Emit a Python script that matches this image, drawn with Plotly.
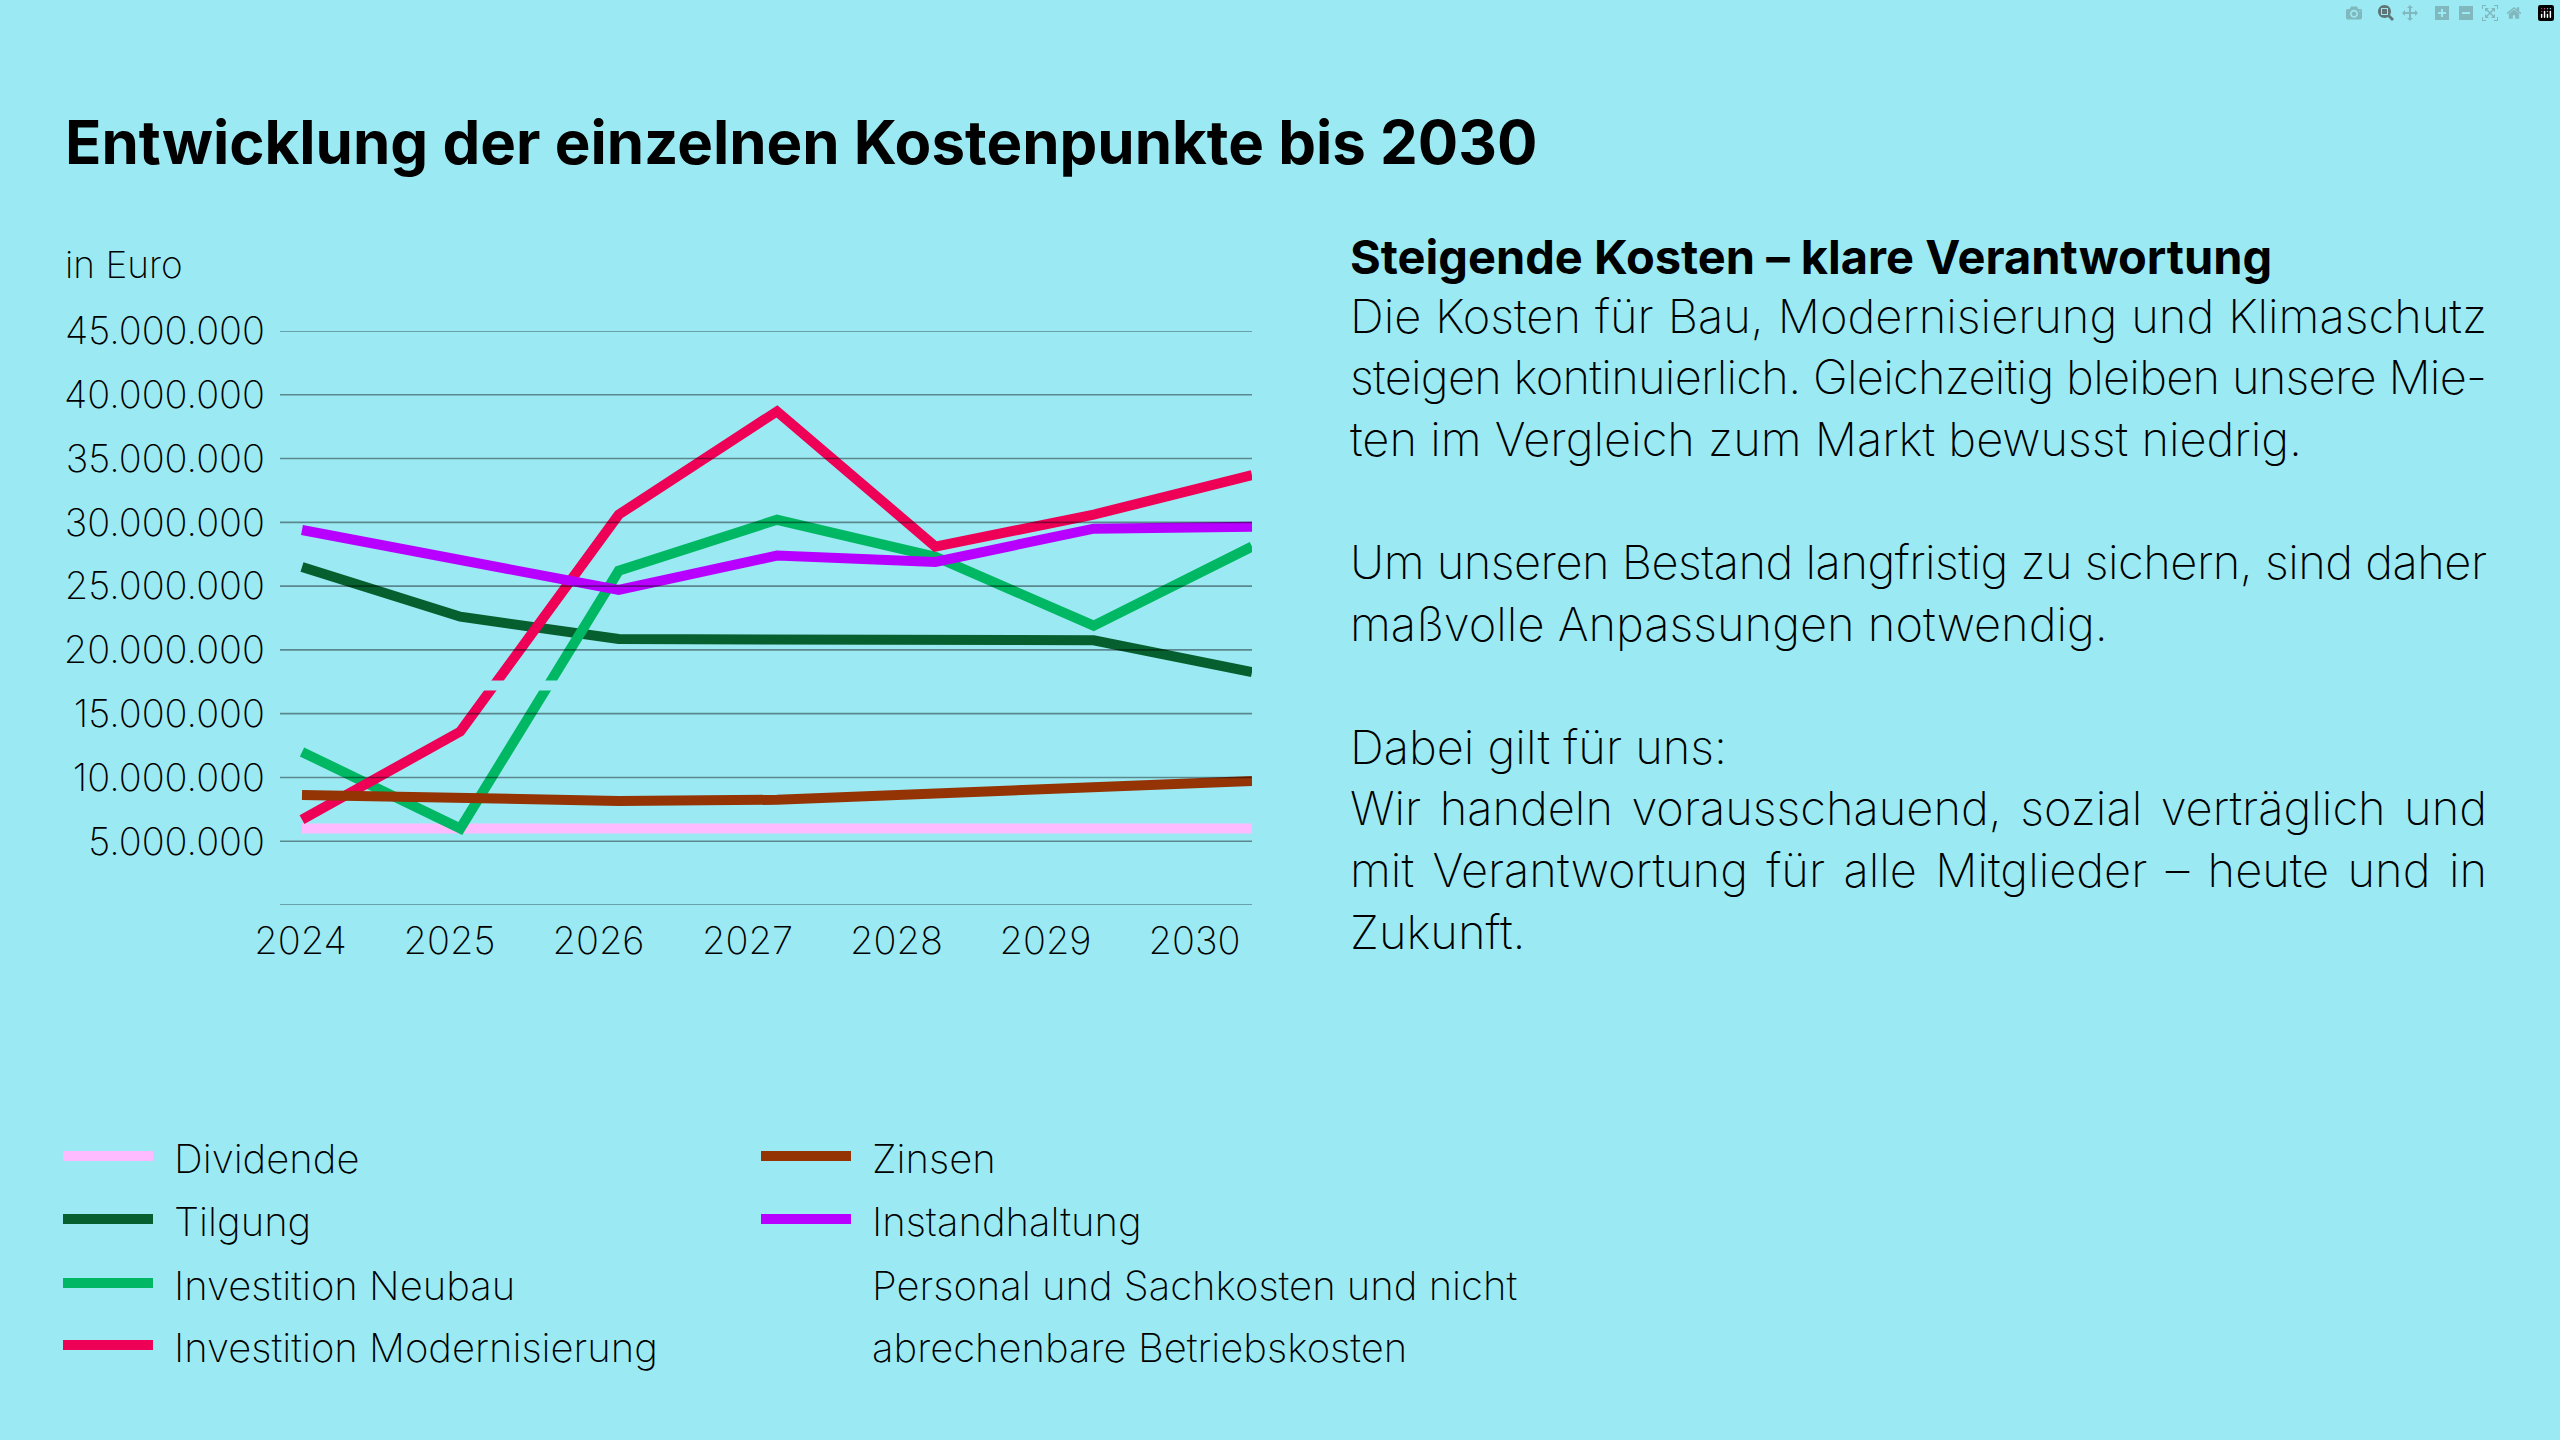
import json

import plotly.graph_objects as go

# ---- data (Euro) -----------------------------------------------------------
YEARS = [2024, 2025, 2026, 2027, 2028, 2029, 2030]
DIVIDENDE = [6_000_000] * 7
TILGUNG = [26_500_000, 22_600_000, 20_850_000, 20_800_000, 20_750_000, 20_750_000, 18_250_000]
NEUBAU = [12_000_000, 6_000_000, 26_200_000, 30_200_000, 27_300_000, 21_900_000, 28_100_000]
MODERNISIERUNG = [6_700_000, 13_600_000, 30_600_000, 38_700_000, 28_100_000, 30_600_000, 33_700_000]
ZINSEN = [8_630_000, 8_400_000, 8_160_000, 8_250_000, 8_720_000, 9_170_000, 9_730_000]
INSTANDHALTUNG = [29_400_000, 27_050_000, 24_700_000, 27_400_000, 26_900_000, 29_500_000, 29_650_000]
PERSONAL = [17_200_000] * 7
Y_TICKS = [5_000_000 * i for i in range(1, 10)]

BG = "#9beaf3"
GRID = "rgba(0,0,0,0.42)"
FONT = "Inter"
LIGHT = 200  # the installed Inter only goes light at 200

SERIES = [
    ("Dividende", DIVIDENDE, "#ffbbff"),
    ("Tilgung", TILGUNG, "#065f2e"),
    ("Investition Neubau", NEUBAU, "#00b863"),
    ("Investition Modernisierung", MODERNISIERUNG, "#ee0057"),
    ("Zinsen", ZINSEN, "#943405"),
    ("Instandhaltung", INSTANDHALTUNG, "#b700ff"),
    ("Personal und Sachkosten und nicht abrechenbare Betriebskosten", PERSONAL, BG),
]

TITLE = "Entwicklung der einzelnen Kostenpunkte bis 2030"
HEAD = "Steigende Kosten – klare Verantwortung"
BODY = [
    "Die Kosten für Bau, Modernisierung und Klimaschutz",
    "steigen kontinuierlich. Gleichzeitig bleiben unsere Mie-",
    "ten im Vergleich zum Markt bewusst niedrig.",
    None,
    "Um unseren Bestand langfristig zu sichern, sind daher",
    "maßvolle Anpassungen notwendig.",
    None,
    "Dabei gilt für uns:",
    "Wir handeln vorausschauend, sozial verträglich und",
    "mit Verantwortung für alle Mitglieder – heute und in",
    "Zukunft.",
]
JUSTIFY = [BODY[0], BODY[1], BODY[4], BODY[8], BODY[9]]

# ---- page geometry (px of the 2560x1440 page) -------------------------------
W, H = 2560, 1440
L, R, T, B = 280, 1252, 331, 905


def px(x):
    return (x - L) / (R - L)


def py(y):
    return (B - y) / (B - T)


def text(s, x, y, size, weight=LIGHT, anchor="left"):
    return dict(text=s, x=px(x), y=py(y), xref="paper", yref="paper",
                xanchor=anchor, yanchor="middle", showarrow=False, align="left",
                font=dict(family=FONT, size=size, color="black", weight=weight))


fig = go.Figure()
for name, vals, col in SERIES:
    fig.add_trace(go.Scatter(x=YEARS, y=vals, name=name, mode="lines",
                             line=dict(color=col, width=10)))

for v in [0] + Y_TICKS:
    fig.add_hline(y=v, line=dict(color=GRID, width=1.6), layer="above")

# x labels sit on their own even spacing, a bit tighter than the points
step = (R - 302) / 6
tick_pos = [YEARS[0] + (300.5 - 302 + 149 * i) / step for i in range(len(YEARS))]

anns = [text(f"<b>{TITLE}</b>", 63, 142, 60, weight=700),
        text("in Euro", 63, 264, 37),
        text(f"<b>{HEAD}</b>", 1348, 256, 47, weight=700)]
y = 315
for line in BODY:
    if line:
        anns.append(text(line, 1348, y, 47))
    y += 61.6

# legend, two columns, drawn by hand
rows = [1158, 1221, 1285, 1347]
legend_pos = [(63, rows[0]), (761, rows[0]), (63, rows[1]), (761, rows[1]),
              (63, rows[2]), (761, rows[2]), (63, rows[3])]
order = [0, 4, 1, 5, 2, 6, 3]
for (lx, ly), i in zip(legend_pos, order):
    name, _, col = SERIES[i]
    fig.add_shape(type="line", xref="paper", yref="paper",
                  x0=px(lx), x1=px(lx + 90), y0=py(ly - 2), y1=py(ly - 2),
                  line=dict(color=col, width=10))
    if i == 6:
        anns.append(text("Personal und Sachkosten und nicht", lx + 109, ly, 40))
        anns.append(text("abrechenbare Betriebskosten", lx + 109, rows[3], 40))
    else:
        anns.append(text(name, lx + 109, ly, 40))

fig.update_layout(
    width=W, height=H, paper_bgcolor=BG, plot_bgcolor=BG,
    margin=dict(l=L, r=W - R, t=T, b=H - B), showlegend=False,
    separators=",.", annotations=anns,
    font=dict(family=FONT, size=37, color="black", weight=LIGHT),
)
fig.update_xaxes(range=[YEARS[0] - (302 - L) / step, YEARS[-1]], tickvals=tick_pos,
                 ticktext=[str(yr) for yr in YEARS], showgrid=False, zeroline=False,
                 showline=False, ticks="", ticklabelstandoff=10,
                 tickfont=dict(family=FONT, size=38, weight=LIGHT))
fig.update_yaxes(range=[0, 45_000_000], tickvals=Y_TICKS, tickformat=",.0f",
                 showgrid=False, zeroline=False, showline=False, ticks="",
                 ticklabelstandoff=14, tickfont=dict(family=FONT, size=38, weight=LIGHT))

# justified lines: widen the word gaps, or tighten letters if a line runs long
post = """
document.body.style.margin = '0';
var lines = %s, width = %d;
document.querySelectorAll('text.annotation-text').forEach(function (t) {
  var s = t.textContent;
  if (lines.indexOf(s) < 0) return;
  var extra = width - t.getComputedTextLength();
  if (extra >= 0) {
    t.style.wordSpacing = (extra / (s.split(' ').length - 1)) + 'px';
  } else {
    t.style.letterSpacing = (extra / (s.length - 1)) + 'px';
  }
});
""" % (json.dumps(JUSTIFY), 2485 - 1348)

fig.write_html("out.html", post_script=post)
